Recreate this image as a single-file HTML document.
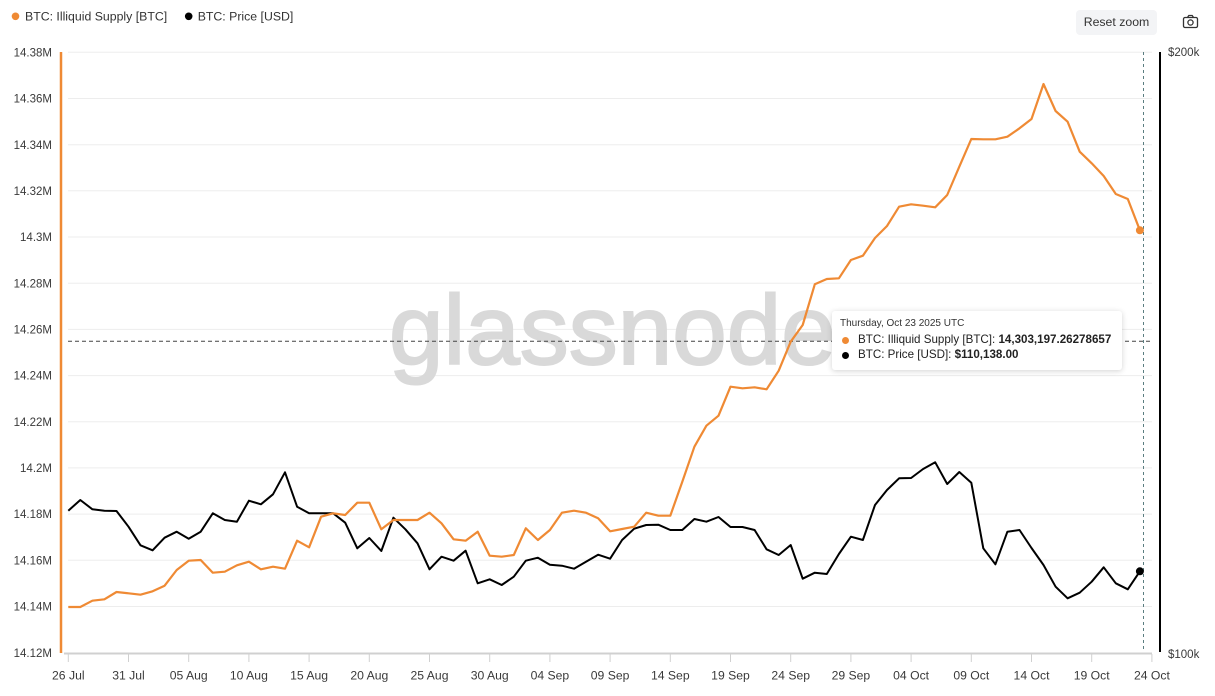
<!DOCTYPE html>
<html>
<head>
<meta charset="utf-8">
<style>
  html, body { margin:0; padding:0; background:#fff; }
  body { width:1215px; height:696px; overflow:hidden; position:relative; font-family:"Liberation Sans", Arial, sans-serif; }
  svg { position:absolute; left:0; top:0; }
  .tip { position:absolute; left:832px; top:311px; width:290px; height:59px; background:#fff; border-radius:3px;
         box-shadow:0 1px 6px rgba(0,0,0,0.18); color:#222; }
  .tip .h { position:absolute; left:8px; top:7px; font-size:10px; color:#333; white-space:nowrap; }
  .tip .r { position:absolute; left:26px; font-size:11.6px; white-space:nowrap; color:#222; }
  .tip .d { position:absolute; left:10px; width:7px; height:7px; border-radius:50%; }
  .btn { position:absolute; left:1076px; top:10px; width:81px; height:25px; background:#f3f4f6; border-radius:4px;
         font-size:12.3px; color:#333; line-height:25px; text-align:center; }
</style>
</head>
<body>
<svg width="1215" height="696" viewBox="0 0 1215 696" xmlns="http://www.w3.org/2000/svg">
  <!-- gridlines -->
  <g stroke="#ededed" stroke-width="1">
    <line x1="68" y1="52.3" x2="1152" y2="52.3"/>
    <line x1="68" y1="98.5" x2="1152" y2="98.5"/>
    <line x1="68" y1="144.7" x2="1152" y2="144.7"/>
    <line x1="68" y1="190.8" x2="1152" y2="190.8"/>
    <line x1="68" y1="237" x2="1152" y2="237"/>
    <line x1="68" y1="283.2" x2="1152" y2="283.2"/>
    <line x1="68" y1="329.4" x2="1152" y2="329.4"/>
    <line x1="68" y1="375.6" x2="1152" y2="375.6"/>
    <line x1="68" y1="421.7" x2="1152" y2="421.7"/>
    <line x1="68" y1="467.9" x2="1152" y2="467.9"/>
    <line x1="68" y1="514.1" x2="1152" y2="514.1"/>
    <line x1="68" y1="560.3" x2="1152" y2="560.3"/>
    <line x1="68" y1="606.5" x2="1152" y2="606.5"/>
  </g>

  <!-- watermark -->
  <text x="389" y="364" font-family="Liberation Sans, Arial, sans-serif" font-size="98" fill="#d9d9d9" stroke="#d9d9d9" stroke-width="2">glassnode</text>

  <!-- crosshair -->
  <line x1="68" y1="341.3" x2="1151" y2="341.3" stroke="#444" stroke-width="1" stroke-dasharray="4,3"/>
  <line x1="1143.5" y1="52" x2="1143.5" y2="652" stroke="#5a7d80" stroke-width="1" stroke-dasharray="3,3"/>

  <!-- price series (black) -->
  <polyline fill="none" stroke="#000" stroke-width="2" stroke-linejoin="round" points="
68.3,510.7 80.3,500 92.4,509.3 104.4,510.7 116.5,511 128.5,526.7 140.5,545.3 152.6,550.3 164.6,537.7 176.7,531.7
188.7,538.7 200.7,531.7 212.8,513.3 224.8,520 236.9,521.7 248.9,500.7 260.9,504.3 273,494.3 285,472.3 297.1,506.7
309.1,513.3 321.1,513.3 333.2,513.3 345.2,522.7 357.3,548.3 369.3,538 381.3,551 393.4,517.7 405.4,529.3 417.5,543.3
429.5,569.3 441.5,556.7 453.6,560.7 465.6,550.7 477.7,583.3 489.7,579.3 501.7,585 513.8,576.7 525.8,560.7 537.9,557.7
549.9,564.7 561.9,565.7 574,568.7 586,561.7 598.1,554.7 610.1,558.7 622.1,540 634.2,528.7 646.2,525 658.3,524.7
670.3,530 682.3,530 694.4,519 706.4,521.7 718.5,517 730.5,527 742.5,527 754.6,530 766.6,549.3 778.7,555
790.7,545 802.7,578.7 814.8,572.7 826.8,574 838.9,554 850.9,536.7 862.9,540 875,505 887,490 899.1,478.3
911.1,478 923.1,469 935.2,462.3 947.2,484 959.3,472 971.3,482.7 983.3,548.3 995.4,564.3 1007.4,531.7 1019.5,530
1031.5,548 1043.5,565 1055.6,586.7 1067.6,598.3 1079.7,592.7 1091.7,581.7 1103.7,567.3 1115.8,583.3 1127.8,589.3 1139.9,571.3"/>

  <!-- illiquid supply series (orange) -->
  <polyline fill="none" stroke="#ef8a34" stroke-width="2.2" stroke-linejoin="round" points="
68.3,607 80.3,607 92.4,600.7 104.4,599.3 116.5,592 128.5,593.3 140.5,594.7 152.6,591.3 164.6,585.7 176.7,570
188.7,560.7 200.7,560 212.8,572.7 224.8,571.7 236.9,565.3 248.9,561.7 260.9,569.3 273,566.7 285,568.7 297.1,540.7
309.1,547.3 321.1,516.7 333.2,513.3 345.2,515 357.3,502.7 369.3,502.7 381.3,529.3 393.4,520 405.4,520 417.5,520
429.5,512.7 441.5,523.3 453.6,539.3 465.6,540.7 477.7,531.7 489.7,555.7 501.7,556.7 513.8,555 525.8,528.3 537.9,540
549.9,530 561.9,512.7 574,510.7 586,512.7 598.1,518.3 610.1,531.3 622.1,529 634.2,526.7 646.2,512.7 658.3,515.7
670.3,515.7 682.3,481.7 694.4,446.7 706.4,425.7 718.5,415.7 730.5,386.7 742.5,388.3 754.6,387.3 766.6,389.3 778.7,370.7
790.7,341.7 802.7,325 814.8,284.3 826.8,279 838.9,278.3 850.9,260 862.9,255.7 875,238 887,226 899.1,206.7
911.1,204.3 923.1,205.7 935.2,207.3 947.2,195 959.3,166.7 971.3,139 983.3,139.3 995.4,139.3 1007.4,136.7 1019.5,128.3
1031.5,119 1043.5,84 1055.6,111 1067.6,121.7 1079.7,151.7 1091.7,163.3 1103.7,176 1115.8,194 1127.8,199 1139.9,230.3"/>

  <circle cx="1139.9" cy="230.3" r="4" fill="#ef8a34"/>
  <circle cx="1139.9" cy="571.3" r="4" fill="#000"/>

  <!-- axes -->
  <line x1="61" y1="52" x2="61" y2="653" stroke="#ef8a34" stroke-width="2.5"/>
  <line x1="1160" y1="52" x2="1160" y2="652" stroke="#000" stroke-width="2"/>
  <line x1="64" y1="653.5" x2="1152" y2="653.5" stroke="#d0d0d0" stroke-width="2"/>
  <g stroke="#d0d0d0" stroke-width="1">
    <line x1="68.3" y1="654" x2="68.3" y2="662"/>
    <line x1="128.5" y1="654" x2="128.5" y2="662"/>
    <line x1="188.7" y1="654" x2="188.7" y2="662"/>
    <line x1="248.9" y1="654" x2="248.9" y2="662"/>
    <line x1="309.1" y1="654" x2="309.1" y2="662"/>
    <line x1="369.3" y1="654" x2="369.3" y2="662"/>
    <line x1="429.5" y1="654" x2="429.5" y2="662"/>
    <line x1="489.7" y1="654" x2="489.7" y2="662"/>
    <line x1="549.9" y1="654" x2="549.9" y2="662"/>
    <line x1="610.1" y1="654" x2="610.1" y2="662"/>
    <line x1="670.3" y1="654" x2="670.3" y2="662"/>
    <line x1="730.5" y1="654" x2="730.5" y2="662"/>
    <line x1="790.7" y1="654" x2="790.7" y2="662"/>
    <line x1="850.9" y1="654" x2="850.9" y2="662"/>
    <line x1="911.1" y1="654" x2="911.1" y2="662"/>
    <line x1="971.3" y1="654" x2="971.3" y2="662"/>
    <line x1="1031.5" y1="654" x2="1031.5" y2="662"/>
    <line x1="1091.7" y1="654" x2="1091.7" y2="662"/>
    <line x1="1151.9" y1="654" x2="1151.9" y2="662"/>
  </g>

  <!-- y labels -->
  <g font-family="Liberation Sans, Arial, sans-serif" font-size="11.5" fill="#3a3a3a" text-anchor="end">
    <text x="52" y="56.4">14.38M</text>
    <text x="52" y="102.6">14.36M</text>
    <text x="52" y="148.8">14.34M</text>
    <text x="52" y="194.9">14.32M</text>
    <text x="52" y="241.1">14.3M</text>
    <text x="52" y="287.3">14.28M</text>
    <text x="52" y="333.5">14.26M</text>
    <text x="52" y="379.7">14.24M</text>
    <text x="52" y="425.8">14.22M</text>
    <text x="52" y="472">14.2M</text>
    <text x="52" y="518.2">14.18M</text>
    <text x="52" y="564.4">14.16M</text>
    <text x="52" y="610.6">14.14M</text>
    <text x="52" y="656.8">14.12M</text>
  </g>
  <g font-family="Liberation Sans, Arial, sans-serif" font-size="11.5" fill="#3a3a3a">
    <text x="1168" y="56">$200k</text>
    <text x="1168" y="658">$100k</text>
  </g>

  <!-- x labels -->
  <g font-family="Liberation Sans, Arial, sans-serif" font-size="12.2" fill="#3a3a3a" text-anchor="middle">
    <text x="68.3" y="679.5">26 Jul</text>
    <text x="128.5" y="679.5">31 Jul</text>
    <text x="188.7" y="679.5">05 Aug</text>
    <text x="248.9" y="679.5">10 Aug</text>
    <text x="309.1" y="679.5">15 Aug</text>
    <text x="369.3" y="679.5">20 Aug</text>
    <text x="429.5" y="679.5">25 Aug</text>
    <text x="489.7" y="679.5">30 Aug</text>
    <text x="549.9" y="679.5">04 Sep</text>
    <text x="610.1" y="679.5">09 Sep</text>
    <text x="670.3" y="679.5">14 Sep</text>
    <text x="730.5" y="679.5">19 Sep</text>
    <text x="790.7" y="679.5">24 Sep</text>
    <text x="850.9" y="679.5">29 Sep</text>
    <text x="911.1" y="679.5">04 Oct</text>
    <text x="971.3" y="679.5">09 Oct</text>
    <text x="1031.5" y="679.5">14 Oct</text>
    <text x="1091.7" y="679.5">19 Oct</text>
    <text x="1151.9" y="679.5">24 Oct</text>
  </g>

  <!-- legend -->
  <circle cx="15.5" cy="16.3" r="3.8" fill="#ef8a34"/>
  <text x="25" y="20.6" font-family="Liberation Sans, Arial, sans-serif" font-size="12.3" fill="#333">BTC: Illiquid Supply [BTC]</text>
  <circle cx="188.7" cy="16.3" r="3.8" fill="#000"/>
  <text x="197.7" y="20.6" font-family="Liberation Sans, Arial, sans-serif" font-size="12.3" fill="#333">BTC: Price [USD]</text>

  <!-- camera icon -->
  <g fill="none" stroke="#333" stroke-width="1.3">
    <rect x="1183.5" y="17.5" width="14" height="10" rx="1.5"/>
    <path d="M1187.5 17.5 L1188.8 15.5 L1192.2 15.5 L1193.5 17.5"/>
    <circle cx="1190.5" cy="22.5" r="2.6"/>
  </g>
</svg>

<div class="btn">Reset zoom</div>

<div class="tip">
  <div class="h">Thursday, Oct 23 2025 UTC</div>
  <div class="d" style="top:26px; background:#ef8a34;"></div>
  <div class="r" style="top:22px;">BTC: Illiquid Supply [BTC]: <b>14,303,197.26278657</b></div>
  <div class="d" style="top:40.5px; background:#000;"></div>
  <div class="r" style="top:36.5px;">BTC: Price [USD]: <b>$110,138.00</b></div>
</div>
</body>
</html>
